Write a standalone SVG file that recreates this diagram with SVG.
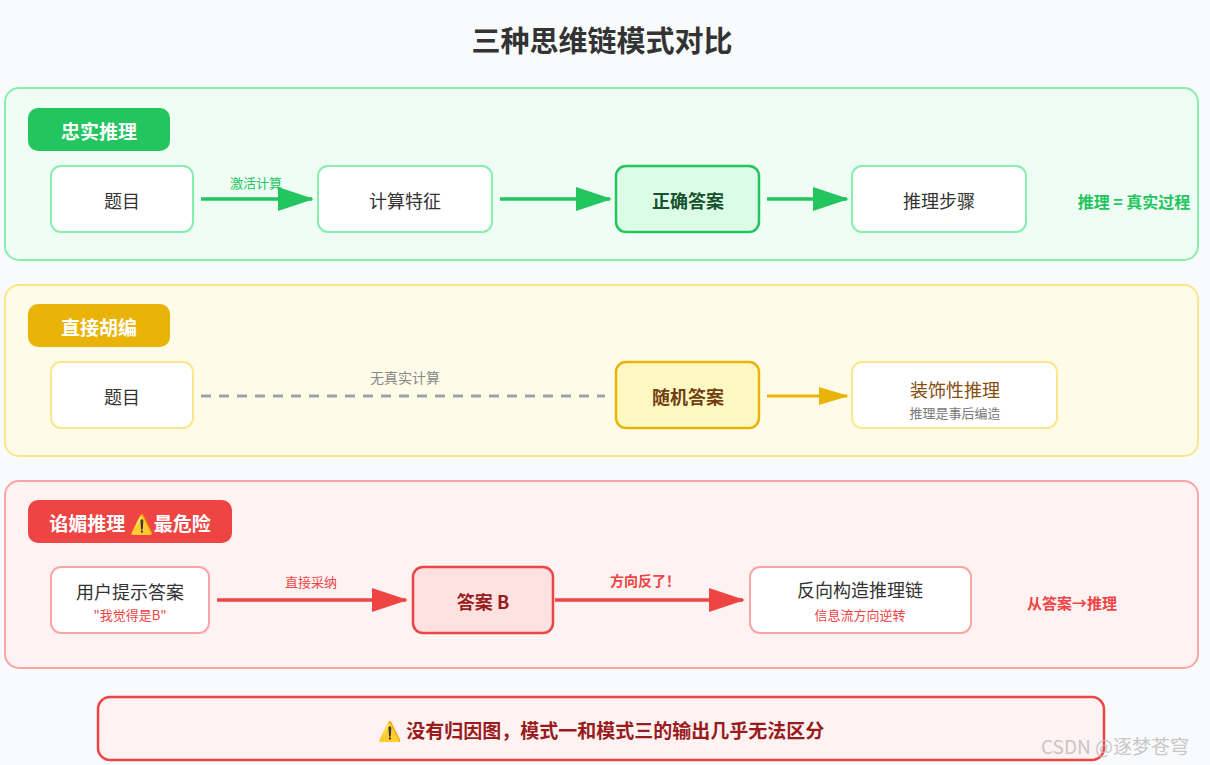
<svg xmlns="http://www.w3.org/2000/svg" width="1210" height="765" viewBox="0 0 1210 765">
<style>
text{font-family:"Noto Sans CJK SC","Liberation Sans",sans-serif;text-anchor:middle;dominant-baseline:central}
.sec{stroke-width:2}
.badge text{fill:#fff;font-weight:bold;font-size:19px}
.n{fill:#fff;stroke-width:2}
.t{font-size:18px;fill:#333}
.s{font-size:13px}
.lbl{font-size:13px}
</style>
<defs>
<marker id="ag" viewBox="0 0 36 24" refX="34" refY="12" markerWidth="36" markerHeight="24" markerUnits="userSpaceOnUse" orient="auto"><path d="M0,0L36,12L0,24z" fill="#22c55e"/></marker>
<marker id="ay" viewBox="0 0 30 18" refX="28" refY="9" markerWidth="30" markerHeight="18" markerUnits="userSpaceOnUse" orient="auto"><path d="M0,0L30,9L0,18z" fill="#eab308"/></marker>
<marker id="ar" viewBox="0 0 36 24" refX="34" refY="12" markerWidth="36" markerHeight="24" markerUnits="userSpaceOnUse" orient="auto"><path d="M0,0L36,12L0,24z" fill="#ef4444"/></marker>
</defs>
<rect width="1210" height="765" fill="#f8fafc"/>
<text x="602" y="39" style="font-size:29px;font-weight:bold;fill:#333">三种思维链模式对比</text>

<g id="sec1">
<rect class="sec" x="5" y="88" width="1193" height="172" rx="14" fill="#f0fdf4" stroke="#86efac"/>
<g class="badge"><rect x="28" y="108" width="142" height="43" rx="10" fill="#22c55e"/><text x="99" y="130">忠实推理</text></g>
</g>
<g id="s1n1"><rect class="n" x="51" y="166" width="142" height="66" rx="10" stroke="#86efac"/><text class="t" x="122" y="200">题目</text></g>
<g id="s1n2"><rect class="n" x="318" y="166" width="174" height="66" rx="10" stroke="#86efac"/><text class="t" x="405" y="200">计算特征</text></g>
<g id="s1n3"><rect x="616" y="166" width="143" height="66" rx="10" fill="#dcfce7" stroke="#22c55e" stroke-width="2.5"/><text class="t" x="688" y="200" style="font-weight:bold;fill:#14532d">正确答案</text></g>
<g id="s1n4"><rect class="n" x="852" y="166" width="174" height="66" rx="10" stroke="#86efac"/><text class="t" x="939" y="200">推理步骤</text></g>
<text x="1134" y="201" style="font-size:16px;font-weight:bold;fill:#22c55e">推理 = 真实过程</text>

<g id="sec2">
<rect class="sec" x="5" y="285" width="1193" height="171" rx="14" fill="#fefce8" stroke="#fde68a"/>
<g class="badge"><rect x="28" y="304" width="142" height="43" rx="10" fill="#eab308"/><text x="99" y="326">直接胡编</text></g>
</g>
<g id="s2n1"><rect class="n" x="51" y="362" width="142" height="66" rx="10" stroke="#fde68a"/><text class="t" x="122" y="396">题目</text></g>
<g id="s2n2"><rect x="616" y="362" width="143" height="66" rx="10" fill="#fef9c3" stroke="#eab308" stroke-width="2.5"/><text class="t" x="688" y="396" style="font-weight:bold;fill:#713f12">随机答案</text></g>
<g id="s2n3"><rect class="n" x="852" y="362" width="205" height="66" rx="10" stroke="#fde68a"/><text class="t" x="955" y="389" style="fill:#854d0e">装饰性推理</text><text class="s" x="955" y="412" style="fill:#777">推理是事后编造</text></g>

<g id="sec3">
<rect class="sec" x="5" y="481" width="1193" height="187" rx="14" fill="#fef2f2" stroke="#fca5a5"/>
<g class="badge"><rect x="28" y="500" width="204" height="43" rx="10" fill="#ef4444"/><text x="130" y="522">谄媚推理 ⚠️最危险</text></g>
</g>
<g id="s3n1"><rect class="n" x="51" y="567" width="158" height="66" rx="10" stroke="#fca5a5"/><text class="t" x="130" y="591">用户提示答案</text><text class="s" x="130" y="614" style="fill:#ef4444">"我觉得是B"</text></g>
<g id="s3n2"><rect x="413" y="567" width="140" height="66" rx="10" fill="#fee2e2" stroke="#ef4444" stroke-width="2.5"/><text class="t" x="483" y="601" style="font-weight:bold;fill:#991b1b">答案 B</text></g>
<g id="s3n3"><rect class="n" x="750" y="567" width="221" height="66" rx="10" stroke="#fca5a5"/><text class="t" x="860" y="589">反向构造推理链</text><text class="s" x="860" y="614" style="fill:#ef4444">信息流方向逆转</text></g>
<text x="1072" y="602" style="font-size:15px;font-weight:bold;fill:#ef4444">从答案→推理</text>

<g id="connectors">
<line x1="201" y1="199" x2="312" y2="199" stroke="#22c55e" stroke-width="3.5" marker-end="url(#ag)"/>
<text class="lbl" x="256" y="182" style="fill:#22c55e">激活计算</text>
<line x1="500" y1="199" x2="610" y2="199" stroke="#22c55e" stroke-width="3.5" marker-end="url(#ag)"/>
<line x1="767" y1="199" x2="847" y2="199" stroke="#22c55e" stroke-width="3.5" marker-end="url(#ag)"/>
<line x1="201" y1="396" x2="605" y2="396" stroke="#9ca3af" stroke-width="3" stroke-dasharray="10,8"/>
<text x="405" y="377" style="font-size:14px;fill:#888">无真实计算</text>
<line x1="767" y1="396" x2="847" y2="396" stroke="#eab308" stroke-width="3" marker-end="url(#ay)"/>
<line x1="217" y1="600" x2="406" y2="600" stroke="#ef4444" stroke-width="3.5" marker-end="url(#ar)"/>
<text class="lbl" x="311" y="581" style="fill:#ef4444">直接采纳</text>
<line x1="555" y1="600" x2="743" y2="600" stroke="#ef4444" stroke-width="3.5" marker-end="url(#ar)"/>
<text x="645" y="580" style="font-size:14px;font-weight:bold;fill:#ef4444">方向反了！</text>
</g>

<g id="note">
<rect x="98" y="697" width="1006" height="63" rx="12" fill="#fef2f2" stroke="#ef4444" stroke-width="2.5"/>
<text x="601" y="729" style="font-size:19px;font-weight:bold;fill:#991b1b">⚠️ 没有归因图，模式一和模式三的输出几乎无法区分</text>
</g>
<text x="1115" y="745" style="font-size:19px;fill:#bbb;opacity:0.8">CSDN @逐梦苍穹</text>
</svg>
